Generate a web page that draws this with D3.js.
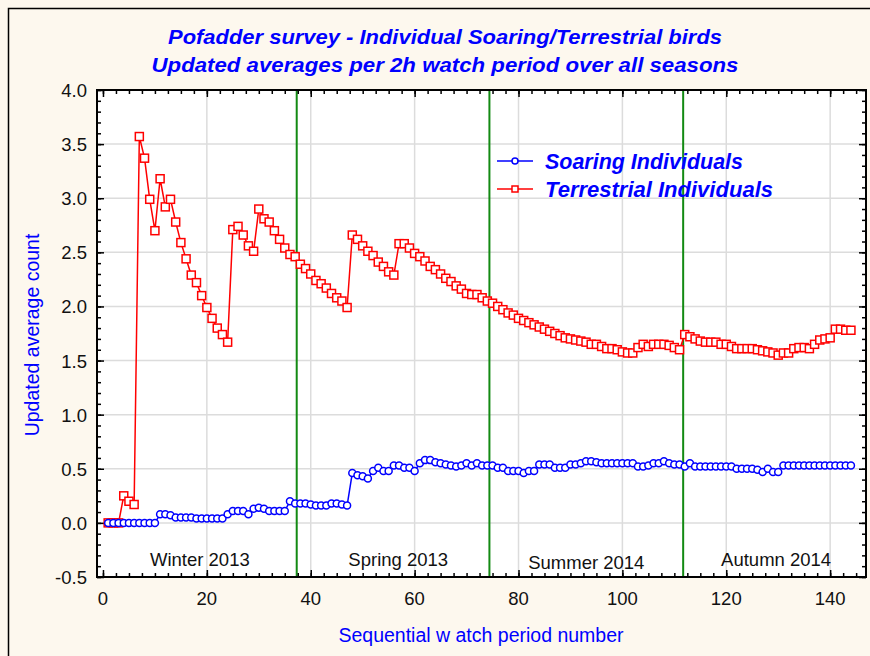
<!DOCTYPE html>
<html>
<head>
<meta charset="utf-8">
<script src="https://cdn.jsdelivr.net/npm/d3@7/dist/d3.min.js"></script>
<style>
  body { margin: 0; background: #fdf8ee; }
  svg { display: block; }
  text { font-family: Arial, "Liberation Sans", sans-serif; }
</style>
</head>
<body>
<div id="chart"></div>
<script>
// chart data
var periods = d3.range(1, 145);

var soaring = [
  0, 0, 0, 0, 0, 0, 0, 0, 0, 0,
  0.08, 0.08, 0.07, 0.05, 0.05, 0.05, 0.05, 0.04, 0.04, 0.04,
  0.04, 0.04, 0.04, 0.08, 0.11, 0.11, 0.11, 0.08, 0.13, 0.14,
  0.13, 0.11, 0.11, 0.11, 0.11, 0.20, 0.18, 0.18, 0.18, 0.17,
  0.16, 0.16, 0.16, 0.18, 0.18, 0.17, 0.16, 0.46, 0.44, 0.43,
  0.41, 0.48, 0.51, 0.48, 0.48, 0.53, 0.53, 0.51, 0.51, 0.48,
  0.55, 0.58, 0.58, 0.56, 0.55, 0.54, 0.53, 0.52, 0.53, 0.55,
  0.53, 0.55, 0.53, 0.53, 0.53, 0.51, 0.51, 0.48, 0.48, 0.48,
  0.46, 0.48, 0.48, 0.54, 0.54, 0.54, 0.51, 0.51, 0.51, 0.54,
  0.54, 0.55, 0.57, 0.57, 0.56, 0.55, 0.55, 0.55, 0.55, 0.55,
  0.55, 0.55, 0.52, 0.52, 0.53, 0.55, 0.55, 0.57, 0.55, 0.54,
  0.54, 0.52, 0.55, 0.52, 0.52, 0.52, 0.52, 0.52, 0.52, 0.52,
  0.52, 0.50, 0.50, 0.50, 0.50, 0.49, 0.47, 0.50, 0.47, 0.47,
  0.53, 0.53, 0.53, 0.53, 0.53, 0.53, 0.53, 0.53, 0.53, 0.53,
  0.53, 0.53, 0.53, 0.53
];

var terrestrial = [
  0, 0, 0, 0.25, 0.20, 0.17, 3.57, 3.37, 2.99, 2.70,
  3.18, 2.92, 2.99, 2.78, 2.59, 2.44, 2.29, 2.22, 2.10, 1.99,
  1.89, 1.80, 1.74, 1.67, 2.71, 2.74, 2.66, 2.56, 2.51, 2.90,
  2.81, 2.78, 2.70, 2.62, 2.54, 2.48, 2.46, 2.39, 2.35, 2.30,
  2.24, 2.21, 2.17, 2.12, 2.08, 2.05, 1.99, 2.66, 2.62, 2.56,
  2.51, 2.47, 2.41, 2.37, 2.32, 2.29, 2.58, 2.58, 2.54, 2.49,
  2.46, 2.42, 2.37, 2.34, 2.30, 2.26, 2.23, 2.19, 2.16, 2.12,
  2.11, 2.11, 2.08, 2.05, 2.03, 2.00, 1.97, 1.94, 1.92, 1.89,
  1.87, 1.85, 1.83, 1.81, 1.79, 1.77, 1.75, 1.73, 1.71, 1.70,
  1.69, 1.68, 1.67, 1.65, 1.65, 1.63, 1.61, 1.61, 1.60, 1.58,
  1.57, 1.57, 1.62, 1.65, 1.63, 1.65, 1.65, 1.65, 1.64, 1.62,
  1.60, 1.74, 1.72, 1.70, 1.68, 1.67, 1.67, 1.67, 1.65, 1.65,
  1.63, 1.61, 1.61, 1.61, 1.61, 1.60, 1.59, 1.58, 1.57, 1.55,
  1.57, 1.57, 1.61, 1.62, 1.62, 1.61, 1.65, 1.69, 1.70, 1.71,
  1.79, 1.79, 1.78, 1.78
];

var seasons = ["Winter 2013", "Spring 2013", "Summer 2014", "Autumn 2014"];
var seasonBreaks = [37.3, 74.4, 111.7];

var xTicks = [0, 20, 40, 60, 80, 100, 120, 140];
var yTicks = [-0.5, 0, 0.5, 1, 1.5, 2, 2.5, 3, 3.5, 4];

var seriesNames = ["Soaring Individuals", "Terrestrial Individuals"];

// layout
var W = 870, H = 656;
var margin = {top: 90, right: 4, bottom: 79, left: 97},
    width = W - margin.left - margin.right,
    height = H - margin.top - margin.bottom;

var svg = d3.select("#chart").append("svg")
    .attr("width", W)
    .attr("height", H);

// outer frame
svg.append("rect")
    .attr("x", 8.5).attr("y", 8.5)
    .attr("width", W + 20).attr("height", H + 20)
    .style("fill", "#fdf8ee")
    .style("stroke", "#000")
    .style("stroke-width", 1.5);

// titles
var titles = ["Pofadder survey - Individual Soaring/Terrestrial birds",
              "Updated averages per 2h watch period over all seasons"];
var titleLen = [554, 587];
svg.selectAll(".title")
    .data(titles)
  .enter().append("text")
    .attr("class", "title")
    .attr("x", 445)
    .attr("y", function(d, i) { return 44 + i * 28; })
    .attr("text-anchor", "middle")
    .attr("textLength", function(d, i) { return titleLen[i]; })
    .attr("lengthAdjust", "spacingAndGlyphs")
    .style("font-size", "21px")
    .style("font-weight", "bold")
    .style("font-style", "italic")
    .style("fill", "#0000ff")
    .text(function(d) { return d; });

var g = svg.append("g")
    .attr("transform", "translate(" + margin.left + "," + margin.top + ")");

// setup x
var xScale = d3.scaleLinear().domain([-1.15, 146.9]).range([0, width]);
// setup y
var yScale = d3.scaleLinear().domain([-0.5, 4.0]).range([height, 0]);

g.append("rect")
    .attr("width", width).attr("height", height)
    .style("fill", "#fff");

// grid
g.selectAll(".vgrid")
    .data(xTicks.filter(function(d) { return d > 0; }))
  .enter().append("line")
    .attr("class", "vgrid")
    .attr("x1", function(d) { return xScale(d); })
    .attr("x2", function(d) { return xScale(d); })
    .attr("y1", 0).attr("y2", height)
    .style("stroke", "#dcdcdc").style("stroke-width", 1.5);

g.selectAll(".hgrid")
    .data(yTicks.filter(function(d) { return d > -0.5 && d < 4; }))
  .enter().append("line")
    .attr("class", "hgrid")
    .attr("y1", function(d) { return yScale(d); })
    .attr("y2", function(d) { return yScale(d); })
    .attr("x1", 0).attr("x2", width)
    .style("stroke", "#dcdcdc").style("stroke-width", 1.5);

// season boundaries
g.selectAll(".season-line")
    .data(seasonBreaks)
  .enter().append("line")
    .attr("class", "season-line")
    .attr("x1", function(d) { return xScale(d); })
    .attr("x2", function(d) { return xScale(d); })
    .attr("y1", 0).attr("y2", height)
    .style("stroke", "#138a13").style("stroke-width", 2);

// season labels, centred in each span
var bounds = [0].concat(seasonBreaks).concat([147.5]);
g.selectAll(".season")
    .data(seasons)
  .enter().append("text")
    .attr("class", "season")
    .attr("x", function(d, i) { return xScale((bounds[i] + bounds[i + 1]) / 2 + (i == 1 ? 1 : 0)); })
    .attr("y", function(d, i) { return i == 2 ? 479 : 476; })
    .attr("text-anchor", "middle")
    .style("font-size", "18.5px")
    .style("fill", "#111")
    .text(function(d) { return d; });

// axes: major ticks with labels, minor ticks inside
var xMinor = d3.range(0, 146, 2.5);
var yMinor = d3.range(-0.5, 4.001, 0.1);

function tickAxis(axis, ticks, size) {
  return axis.tickValues(ticks).tickSize(size).tickSizeOuter(0).tickFormat("");
}

g.append("g").attr("transform", "translate(0," + height + ")")
    .call(tickAxis(d3.axisTop(xScale), xMinor, 4));
g.append("g").attr("transform", "translate(0," + height + ")")
    .call(tickAxis(d3.axisTop(xScale), xTicks, 7));
g.append("g")
    .call(tickAxis(d3.axisBottom(xScale), xMinor, 4));
g.append("g")
    .call(tickAxis(d3.axisBottom(xScale), xTicks, 7));
g.append("g")
    .call(tickAxis(d3.axisRight(yScale), yMinor, 4));
g.append("g")
    .call(tickAxis(d3.axisRight(yScale), yTicks, 7));
g.append("g").attr("transform", "translate(" + width + ",0)")
    .call(tickAxis(d3.axisLeft(yScale), yMinor, 4));
g.append("g").attr("transform", "translate(" + width + ",0)")
    .call(tickAxis(d3.axisLeft(yScale), yTicks, 7));

g.selectAll(".tick line").style("stroke", "#000").style("stroke-width", 1.5);
g.selectAll(".domain").remove();

g.append("rect")
    .attr("width", width).attr("height", height)
    .style("fill", "none")
    .style("stroke", "#000")
    .style("stroke-width", 2);

// tick labels
g.selectAll(".xlab")
    .data(xTicks)
  .enter().append("text")
    .attr("class", "xlab")
    .attr("x", function(d) { return xScale(d); })
    .attr("y", height + 28)
    .attr("text-anchor", "middle")
    .style("font-size", "18.5px")
    .style("fill", "#111")
    .text(function(d) { return d; });

// plain hyphen for negatives, like the original
var yFmt = function(d) { return d.toFixed(1); };

g.selectAll(".ylab")
    .data(yTicks)
  .enter().append("text")
    .attr("class", "ylab")
    .attr("x", -10)
    .attr("y", function(d) { return yScale(d) + 7; })
    .attr("text-anchor", "end")
    .style("font-size", "18.5px")
    .style("fill", "#111")
    .text(yFmt);

// axis titles
svg.append("text")
    .attr("transform", "translate(39,335) rotate(-90)")
    .attr("text-anchor", "middle")
    .style("font-size", "19.5px")
    .style("fill", "#0000ff")
    .text("Updated average count");

svg.append("text")
    .attr("x", 481)
    .attr("y", 642)
    .attr("text-anchor", "middle")
    .style("font-size", "19.5px")
    .style("fill", "#0000ff")
    .text("Sequential w atch period number");

// series
var line = d3.line()
    .x(function(d, i) { return xScale(periods[i]); })
    .y(function(d) { return yScale(d); });

g.append("path")
    .datum(terrestrial)
    .attr("d", line)
    .style("fill", "none").style("stroke", "#ff0000").style("stroke-width", 1.5);

g.selectAll(".sq")
    .data(terrestrial)
  .enter().append("rect")
    .attr("class", "sq")
    .attr("x", function(d, i) { return xScale(periods[i]) - 4; })
    .attr("y", function(d) { return yScale(d) - 4; })
    .attr("width", 8).attr("height", 8)
    .style("fill", "#fff").style("stroke", "#ff0000").style("stroke-width", 1.5);

g.append("path")
    .datum(soaring)
    .attr("d", line)
    .style("fill", "none").style("stroke", "#0000ff").style("stroke-width", 1.5);

g.selectAll(".dot")
    .data(soaring)
  .enter().append("circle")
    .attr("class", "dot")
    .attr("r", 3.5)
    .attr("cx", function(d, i) { return xScale(periods[i]); })
    .attr("cy", function(d) { return yScale(d); })
    .style("fill", "#fff").style("stroke", "#0000ff").style("stroke-width", 1.5);

// legend
var legend = svg.append("g").attr("transform", "translate(497,161)");
var colors = ["#0000ff", "#ff0000"];
var legendLen = [198, 228];
seriesNames.forEach(function(name, i) {
  var row = legend.append("g").attr("transform", "translate(0," + i * 28 + ")");
  row.append("line")
      .attr("x1", 0).attr("x2", 36)
      .style("stroke", colors[i]).style("stroke-width", 1.5);
  if (i == 0) {
    row.append("circle").attr("cx", 18).attr("r", 3)
        .style("fill", "#fff").style("stroke", colors[i]).style("stroke-width", 1.5);
  } else {
    row.append("rect").attr("x", 15).attr("y", -3).attr("width", 6).attr("height", 6)
        .style("fill", "#fff").style("stroke", colors[i]).style("stroke-width", 1.5);
  }
  row.append("text")
      .attr("x", 48).attr("y", 8)
      .attr("textLength", legendLen[i])
      .attr("lengthAdjust", "spacingAndGlyphs")
      .style("font-size", "21.5px")
      .style("font-weight", "bold")
      .style("font-style", "italic")
      .style("fill", "#0000ff")
      .text(name);
});
</script>
</body>
</html>
